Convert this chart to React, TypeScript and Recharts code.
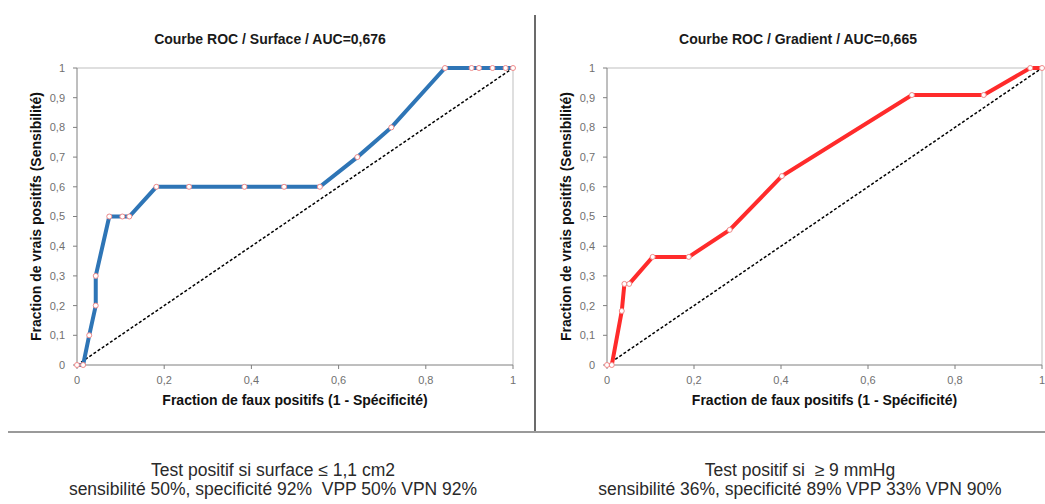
import React from 'react';
import { LineChart, Line, XAxis, YAxis, ReferenceLine } from 'recharts';

// Courbe ROC - surface
const surfaceFpr = [0, 0.014, 0.028, 0.043, 0.043, 0.074, 0.104, 0.12, 0.182, 0.257, 0.384, 0.475, 0.557, 0.643, 0.721, 0.844, 0.905, 0.922, 0.953, 0.983, 1];
const surfaceTpr = [0, 0, 0.1, 0.2, 0.3, 0.5, 0.5, 0.5, 0.6, 0.6, 0.6, 0.6, 0.6, 0.7, 0.8, 1, 1, 1, 1, 1, 1];

// Courbe ROC - gradient
const gradientFpr = [0, 0.011, 0.034, 0.04, 0.051, 0.105, 0.188, 0.282, 0.402, 0.701, 0.866, 0.973, 1];
const gradientTpr = [0, 0, 0.182, 0.273, 0.273, 0.364, 0.364, 0.455, 0.636, 0.909, 0.909, 1, 1];

const diagonalX = [0, 1];
const diagonalY = [0, 1];

const xTicks = [0, 0.2, 0.4, 0.6, 0.8, 1];
const yTicks = [0, 0.1, 0.2, 0.3, 0.4, 0.5, 0.6, 0.7, 0.8, 0.9, 1];

const toPoints = (xs: number[], ys: number[]) => xs.map((x, i) => ({ x, y: ys[i] }));
const fmt = (v: number) => String(Math.round(v * 10) / 10).replace('.', ',');

const FONT = "'Liberation Sans', Arial, sans-serif";

type PanelProps = {
  title: string;
  titleX: number;
  left: number;
  width: number;
  marginRight: number;
  xs: number[];
  ys: number[];
  color: string;
};

const RocPanel = ({ title, titleX, left, width, marginRight, xs, ys, color }: PanelProps) => {
  const curve = toPoints(xs, ys);
  const diag = toPoints(diagonalX, diagonalY);
  return (
    <div style={{ position: 'absolute', left, top: 0, width, height: 430 }}>
      <div
        style={{
          position: 'absolute',
          left: titleX - 150,
          width: 300,
          top: 31,
          textAlign: 'center',
          fontFamily: FONT,
          fontWeight: 'bold',
          fontSize: 14,
          color: '#1a1a1a',
        }}
      >
        {title}
      </div>
      <LineChart width={width} height={430} margin={{ top: 68, right: marginRight, bottom: 35, left: 27 }}>
        <XAxis
          type="number"
          dataKey="x"
          domain={[0, 1]}
          ticks={xTicks}
          tickFormatter={fmt}
          height={30}
          tickSize={4}
          tickMargin={7}
          axisLine={{ stroke: '#7f7f7f' }}
          tickLine={{ stroke: '#7f7f7f' }}
          tick={{ fill: '#707070', fontSize: 11, fontFamily: FONT }}
          label={{
            value: 'Fraction de faux positifs (1 - Spécificité)',
            position: 'bottom',
            offset: 0,
            style: { fill: '#111', fontSize: 14, fontWeight: 'bold', fontFamily: FONT },
          }}
        />
        <YAxis
          type="number"
          dataKey="y"
          domain={[0, 1]}
          ticks={yTicks}
          tickFormatter={fmt}
          width={50}
          tickSize={4}
          tickMargin={8}
          axisLine={{ stroke: '#7f7f7f' }}
          tickLine={{ stroke: '#7f7f7f' }}
          tick={{ fill: '#707070', fontSize: 11, fontFamily: FONT }}
          label={{
            value: 'Fraction de vrais positifs (Sensibilité)',
            angle: -90,
            position: 'insideLeft',
            offset: 9,
            style: { textAnchor: 'middle', fill: '#111', fontSize: 14, fontWeight: 'bold', fontFamily: FONT },
          }}
        />
        <ReferenceLine y={1} stroke="#bfbfbf" />
        <ReferenceLine x={1} stroke="#bfbfbf" />
        <Line
          data={diag}
          dataKey="y"
          type="linear"
          stroke="#000"
          strokeWidth={1.5}
          strokeDasharray="3 2"
          dot={false}
          isAnimationActive={false}
        />
        <Line
          data={curve}
          dataKey="y"
          type="linear"
          stroke={color}
          strokeWidth={4}
          dot={{ r: 2.5, fill: '#fff', stroke: '#f08a8a', strokeWidth: 1 }}
          activeDot={false}
          isAnimationActive={false}
        />
      </LineChart>
    </div>
  );
};

const noteStyle: React.CSSProperties = {
  position: 'absolute',
  width: 500,
  textAlign: 'center',
  fontFamily: FONT,
  fontSize: 17.5,
  color: '#2a2a2a',
  lineHeight: '19px',
  whiteSpace: 'nowrap',
};

export default function App() {
  return (
    <div style={{ position: 'absolute', left: 0, top: 0, width: 1045, height: 504, background: '#fff', overflow: 'hidden' }}>
      <RocPanel
        title="Courbe ROC / Surface / AUC=0,676"
        titleX={270}
        left={0}
        width={530}
        marginRight={17}
        xs={surfaceFpr}
        ys={surfaceTpr}
        color="#2e75b6"
      />
      <RocPanel
        title="Courbe ROC / Gradient / AUC=0,665"
        titleX={268}
        left={530}
        width={515}
        marginRight={3}
        xs={gradientFpr}
        ys={gradientTpr}
        color="#ff2b2b"
      />
      <div style={{ position: 'absolute', left: 534, top: 15, width: 2, height: 418, background: '#6b6b6b' }} />
      <div style={{ position: 'absolute', left: 8, top: 431, width: 1037, height: 2, background: '#9a9a9a' }} />
      <div style={{ ...noteStyle, left: 23, top: 461 }}>
        Test positif si surface ≤ 1,1 cm2
        <br />
        sensibilité 50%, specificité 92%&nbsp; VPP 50% VPN 92%
      </div>
      <div style={{ ...noteStyle, left: 550, top: 461 }}>
        Test positif si&nbsp; ≥ 9 mmHg
        <br />
        sensibilité 36%, specificité 89% VPP 33% VPN 90%
      </div>
    </div>
  );
}
